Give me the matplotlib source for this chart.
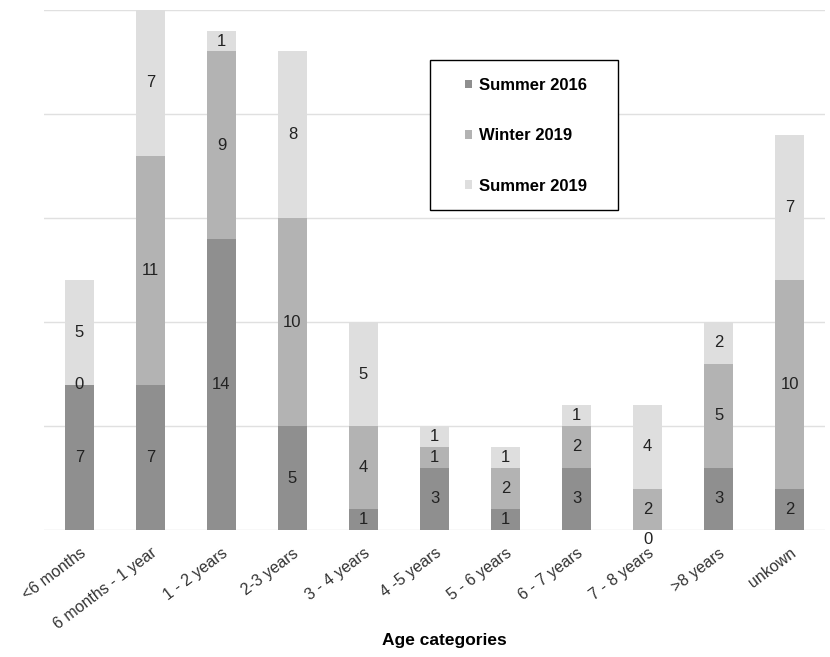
import numpy as np
import matplotlib.pyplot as plt
from matplotlib.patches import Rectangle

plt.rcParams['font.family'] = ['Liberation Sans', 'DejaVu Sans']

categories = ['<6 months', '6 months - 1 year', '1 - 2 years', '2-3 years', '3 - 4 years',
              '4 -5 years', '5 - 6 years', '6 - 7 years', '7 - 8 years', '>8 years', 'unkown']
summer_2016 = [7, 7, 14, 5, 1, 3, 1, 3, 0, 3, 2]
winter_2019 = [0, 11, 9, 10, 4, 1, 2, 2, 2, 5, 10]
summer_2019 = [5, 7, 1, 8, 5, 1, 1, 1, 4, 2, 7]
series_names = ['Summer 2016', 'Winter 2019', 'Summer 2019']
colors = ['#8f8f8f', '#b3b3b3', '#dedede']

fig = plt.figure(figsize=(8.3, 6.57), dpi=100)
ax = fig.add_axes([0.053, 0.193, 0.941, 0.792])

x = np.arange(len(categories))
bottom = np.zeros(len(categories))
for name, vals, c in zip(series_names, [summer_2016, winter_2019, summer_2019], colors):
    vals = np.array(vals, dtype=float)
    bars = ax.bar(x, vals, 0.40, bottom=bottom, color=c, label=name, zorder=3)
    labels = ax.bar_label(bars, labels=[str(int(v)) for v in vals], label_type='center',
                          fontsize=12, color='#222222', zorder=4)
    # zero label on the axis gets pushed just below the baseline
    for lab, v, b in zip(labels, vals, bottom):
        if v == 0 and b == 0:
            lab.xyann = (0, -7)
    bottom += vals

ax.set_xlim(-0.5, len(categories) - 0.5)
ax.set_ylim(0, 25)
ax.set_yticks([0, 5, 10, 15, 20, 25])
ax.yaxis.grid(True, color='#e0e0e0', linewidth=1, zorder=0)
ax.tick_params(axis='y', left=False, labelleft=False)
ax.tick_params(axis='x', length=0, pad=11)
for s in ax.spines.values():
    s.set_visible(False)

ax.set_xticks(x)
ax.set_xticklabels(categories, rotation=37, ha='right', rotation_mode='anchor',
                   fontsize=11.5, color='#333333')
ax.set_xlabel('Age categories', fontsize=12.5, fontweight='bold')
ax.xaxis.set_label_coords(0.513, -0.198)

# legend box drawn separately so the padding matches the original
ax.add_patch(Rectangle((0.494, 0.615), 0.241, 0.289, transform=ax.transAxes,
                       facecolor='white', edgecolor='black', linewidth=1.0, zorder=5))
leg = ax.legend(loc='center left', bbox_to_anchor=(0.539, 0.758), frameon=False,
                labelspacing=2.12, handlelength=0.45, handleheight=0.45, handletextpad=0.4,
                borderpad=0, borderaxespad=0, prop={'weight': 'bold', 'size': 12})
leg.set_zorder(6)

fig.savefig('out.png', dpi=100)
